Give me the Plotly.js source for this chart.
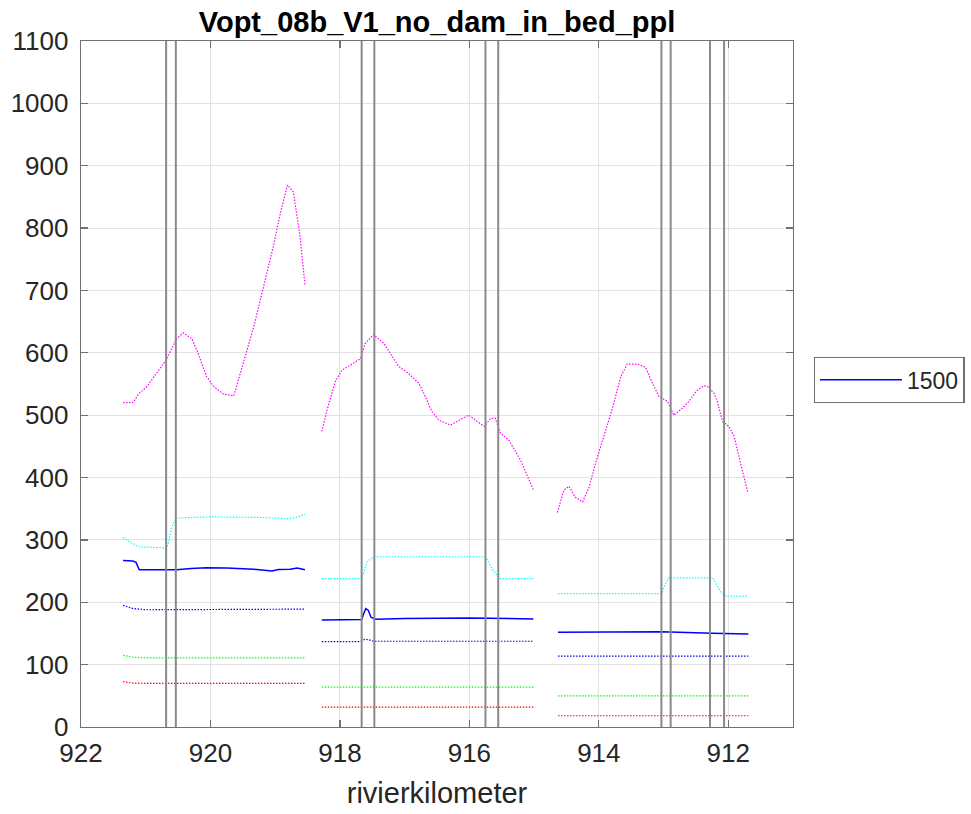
<!DOCTYPE html>
<html>
<head>
<meta charset="utf-8">
<script src="https://cdn.plot.ly/plotly-3.0.1.min.js"></script>
<style>html,body{margin:0;padding:0;background:#fff;}#chart{width:971px;height:814px;}</style>
</head>
<body>
<div id="chart"></div>
<script>
// ---- data (river km on x, values on y); null separates the three reaches ----
const magentaX = [921.35, 921.2, 921.1, 920.98, 920.69, 920.52, 920.42, 920.29, 920.19, 920.06, 919.95, 919.8, 919.64, 919.46, 919.33, 919.18, 919.03, 918.92, 918.81, 918.72, 918.62, 918.54,
  null,
  918.28, 918.2, 918.07, 917.97, 917.84, 917.68, 917.61, 917.48, 917.32, 917.19, 917.09, 916.94, 916.78, 916.68, 916.58, 916.47, 916.29, 916.16, 916.01, 915.88, 915.77, 915.67, 915.6, 915.52, 915.39, 915.21, 915.01,
  null,
  914.64, 914.54, 914.46, 914.37, 914.25, 914.15, 914.05, 913.92, 913.79, 913.66, 913.56, 913.4, 913.28, 913.17, 913.07, 912.94, 912.84, 912.71, 912.61, 912.48, 912.38, 912.32, 912.22, 912.17, 912.09, 911.99, 911.91, 911.81, 911.7];
const magentaY = [520, 520, 535, 546, 588, 623, 632, 623, 599, 562, 546, 534, 531, 594, 642, 706, 770, 824, 869, 858, 790, 709,
  null,
  474, 508, 554, 572, 580, 591, 615, 629, 615, 594, 578, 567, 551, 530, 506, 492, 484, 492, 500, 490, 482, 495, 495, 471, 460, 428, 380,
  null,
  344, 380, 386, 369, 361, 385, 423, 466, 511, 562, 582, 582, 577, 551, 530, 522, 500, 511, 522, 540, 547, 546, 535, 522, 490, 482, 466, 423, 377];

const cyanX = [921.35, 921.25, 921.11, 920.83, 920.67, 920.6, 920.535, 920.3, 920.0, 919.23, 918.77, 918.65, 918.54,
  null,
  918.28, 917.66, 917.58, 917.48, 915.75, 915.65, 915.53, 915.01,
  null,
  914.63, 913.03, 912.98, 912.92, 912.24, 912.12, 912.04, 911.69];
const cyanY = [304, 297, 289, 287, 287, 319, 335, 336, 337, 336, 334, 337, 341,
  null,
  238, 238, 265, 273, 273, 254, 238, 238,
  null,
  214, 214, 228, 239, 239, 217, 210, 210];

// series shown in the legend as "1500"
const blueX = [921.35, 921.2, 921.15, 921.12, 921.1, 920.8, 920.52, 920.3, 920.06, 919.75, 919.49, 919.33, 919.05, 918.95, 918.77, 918.66, 918.54,
  null,
  918.28, 917.9, 917.66, 917.64, 917.6, 917.56, 917.52, 917.45, 917.0, 916.0, 915.01,
  null,
  914.63, 913.03, 912.25, 911.69];
const blueY = [267, 266, 264, 256, 252, 252, 252, 254, 255.5, 255, 253.5, 253, 250, 252.5, 253, 255, 252,
  null,
  171.6, 172, 172.5, 180, 189.7, 187, 176, 172.7, 174, 174.8, 173.2,
  null,
  152, 152.8, 150.3, 149.1];

const blueDotX = [921.35, 921.2, 921.0, 920.5, 920.0, 919.0, 918.54,
  null, 918.28, 917.68, 917.62, 917.56, 917.48, 915.01,
  null, 914.63, 911.69];
const blueDotY = [195, 190, 188, 188, 188.5, 188, 189,
  null, 137, 137, 140.5, 140, 137.5, 137.5,
  null, 113.5, 113.5];

const greenX = [921.35, 921.2, 921.0, 918.54, null, 918.28, 915.01, null, 914.63, 911.69];
const greenY = [115, 112, 111, 111, null, 64, 64, null, 50, 50];

const redX = [921.35, 921.2, 921.0, 918.54, null, 918.28, 915.01, null, 914.63, 911.69];
const redY = [72.6, 70.5, 70, 70, null, 32, 32, null, 18, 18];

const vLines = [920.685, 920.535, 917.664, 917.468, 915.751, 915.554, 913.033, 912.89, 912.282, 912.065];

const xTicks = [922, 920, 918, 916, 914, 912];
const yTicks = [0, 100, 200, 300, 400, 500, 600, 700, 800, 900, 1000, 1100];
const legendName = '1500';
const chartTitle = 'Vopt_08b_V1_no_dam_in_bed_ppl';
const xTitle = 'rivierkilometer';

// ---- traces ----
function dotted(x, y, color) {
  return {x: x, y: y, type: 'scatter', mode: 'lines', connectgaps: false, showlegend: false,
    hoverinfo: 'skip', line: {color: color, width: 1.2, dash: '1.5px,1.5px'}};
}
const traces = [
  dotted(magentaX, magentaY, '#ff00ff'),
  dotted(cyanX, cyanY, '#00ffff'),
  dotted(blueDotX, blueDotY, '#0000ff'),
  dotted(greenX, greenY, '#00ff00'),
  dotted(redX, redY, '#ff0000'),
  {x: blueX, y: blueY, type: 'scatter', mode: 'lines', connectgaps: false, name: legendName,
    showlegend: true, line: {color: '#0000ff', width: 1.5}}
];

const shapes = vLines.map(v => ({type: 'line', xref: 'x', yref: 'paper', x0: v, x1: v, y0: 0, y1: 1,
  layer: 'above', line: {color: '#8a8a8a', width: 2}}));

const axisCommon = {
  showline: true, linecolor: '#707070', linewidth: 1.3, mirror: 'ticks',
  ticks: 'inside', ticklen: 7, tickcolor: '#707070', tickwidth: 1.3,
  showgrid: true, gridcolor: '#e2e2e2', gridwidth: 1, zeroline: false, automargin: false,
  tickfont: {family: 'Liberation Sans, Arial, sans-serif', size: 26, color: '#262626'}
};

const layout = {
  width: 971, height: 814,
  margin: {l: 81, r: 178, t: 41, b: 87, pad: 0, autoexpand: false},
  paper_bgcolor: '#ffffff', plot_bgcolor: '#ffffff',
  font: {family: 'Liberation Sans, Arial, sans-serif', color: '#262626'},
  title: {text: '<b>' + chartTitle + '</b>', x: 0.5, xref: 'paper', xanchor: 'center',
    y: 1, yref: 'paper', yanchor: 'bottom', pad: {b: 9},
    font: {family: 'Liberation Sans, Arial, sans-serif', size: 29, color: '#000000'}},
  xaxis: Object.assign({}, axisCommon, {
    range: [922, 911], tickvals: xTicks, ticktext: xTicks.map(String),
    ticklabelstandoff: 2,
    title: {text: xTitle, standoff: 16, font: {family: 'Liberation Sans, Arial, sans-serif', size: 29, color: '#262626'}}
  }),
  yaxis: Object.assign({}, axisCommon, {
    range: [0, 1100], tickvals: yTicks, ticktext: yTicks.map(String),
    ticklabelstandoff: 6
  }),
  showlegend: true,
  legend: {x: 1.029, xanchor: 'left', y: 0.506, yanchor: 'middle', bgcolor: '#ffffff',
    bordercolor: '#707070', borderwidth: 1.3, itemwidth: 82,
    font: {family: 'Liberation Sans, Arial, sans-serif', size: 23, color: '#262626'}},
  shapes: shapes
};

Plotly.newPlot('chart', traces, layout, {displayModeBar: false, staticPlot: true});
</script>
</body>
</html>
